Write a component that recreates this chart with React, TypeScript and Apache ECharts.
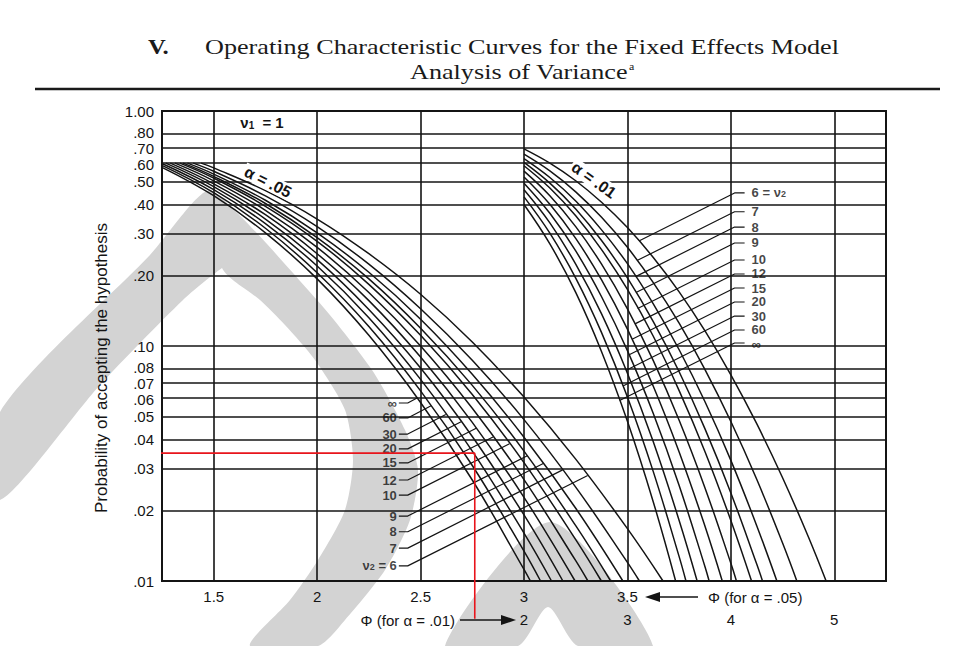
import React, { useEffect, useRef } from "react";
import * as echarts from "echarts";

// ν2 order used by every family below: ∞, 60, 30, 20, 15, 12, 10, 9, 8, 7, 6
const nu2 = ["∞", "60", "30", "20", "15", "12", "10", "9", "8", "7", "6"];

// OC curves, α = .05 (x = Φ for α = .05, y = probability of accepting)
const oc05: number[][][] = [
  [[1.25, 0.576], [1.5, 0.436], [1.75, 0.303], [2.0, 0.193], [2.25, 0.111], [2.5, 0.0575], [2.75, 0.0269], [3.0, 0.0112], [3.031, 0.01]],
  [[1.25, 0.587], [1.5, 0.449], [1.75, 0.317], [2.0, 0.205], [2.25, 0.121], [2.5, 0.0644], [2.75, 0.031], [3.0, 0.0134], [3.08, 0.01]],
  [[1.25, 0.598], [1.5, 0.463], [1.75, 0.332], [2.0, 0.219], [2.25, 0.132], [2.5, 0.0721], [2.75, 0.0357], [3.0, 0.016], [3.133, 0.01]],
  [[1.268, 0.6], [1.5, 0.477], [1.75, 0.347], [2.0, 0.233], [2.25, 0.143], [2.5, 0.0806], [2.75, 0.0412], [3.0, 0.0191], [3.188, 0.01]],
  [[1.29, 0.6], [1.5, 0.49], [1.75, 0.362], [2.0, 0.247], [2.25, 0.156], [2.5, 0.0898], [2.75, 0.0473], [3.0, 0.0227], [3.247, 0.01]],
  [[1.313, 0.6], [1.5, 0.5045], [1.75, 0.378], [2.0, 0.263], [2.25, 0.169], [2.5, 0.1], [2.75, 0.0543], [3.0, 0.027], [3.25, 0.0122], [3.309, 0.01]],
  [[1.336, 0.6], [1.5, 0.518], [1.75, 0.393], [2.0, 0.279], [2.25, 0.183], [2.5, 0.111], [2.75, 0.0622], [3.0, 0.0319], [3.25, 0.015], [3.374, 0.01]],
  [[1.352, 0.6], [1.5, 0.527], [1.75, 0.404], [2.0, 0.289], [2.25, 0.193], [2.5, 0.119], [2.75, 0.068], [3.0, 0.0357], [3.25, 0.0172], [3.419, 0.01]],
  [[1.373, 0.6], [1.5, 0.539], [1.75, 0.417], [2.0, 0.303], [2.25, 0.206], [2.5, 0.13], [2.75, 0.0758], [3.0, 0.0409], [3.25, 0.0204], [3.478, 0.01]],
  [[1.401, 0.6], [1.5, 0.554], [1.75, 0.435], [2.0, 0.322], [2.25, 0.223], [2.5, 0.144], [2.75, 0.0869], [3.0, 0.0486], [3.25, 0.0251], [3.5, 0.012], [3.558, 0.01]],
  [[1.439, 0.6], [1.5, 0.573], [1.75, 0.458], [2.0, 0.347], [2.25, 0.247], [2.5, 0.166], [2.75, 0.104], [3.0, 0.0606], [3.25, 0.033], [3.5, 0.0167], [3.672, 0.01]],
];

// OC curves, α = .01 (x = Φ for α = .01)
const oc01: number[][][] = [
  [[2.0, 0.4], [2.25, 0.272], [2.5, 0.169], [2.75, 0.0946], [3.0, 0.0478], [3.25, 0.0217], [3.466, 0.01]],
  [[2.0, 0.431], [2.25, 0.302], [2.5, 0.1945], [2.75, 0.114], [3.0, 0.0607], [3.25, 0.0292], [3.5, 0.0127], [3.566, 0.01]],
  [[2.0, 0.462], [2.25, 0.334], [2.5, 0.223], [2.75, 0.137], [3.0, 0.0766], [3.25, 0.0391], [3.5, 0.0181], [3.674, 0.01]],
  [[2.0, 0.493], [2.25, 0.367], [2.5, 0.254], [2.75, 0.162], [3.0, 0.0956], [3.25, 0.0516], [3.5, 0.0255], [3.75, 0.0115], [3.79, 0.01]],
  [[2.0, 0.524], [2.25, 0.401], [2.5, 0.287], [2.75, 0.191], [3.0, 0.118], [3.25, 0.0674], [3.5, 0.0354], [3.75, 0.0171], [3.917, 0.01]],
  [[2.0, 0.555], [2.25, 0.436], [2.5, 0.322], [2.75, 0.223], [3.0, 0.144], [3.25, 0.0866], [3.5, 0.0483], [3.75, 0.0249], [4.0, 0.0119], [4.054, 0.01]],
  [[2.0, 0.585], [2.25, 0.47], [2.5, 0.358], [2.75, 0.257], [3.0, 0.174], [3.25, 0.11], [3.5, 0.0646], [3.75, 0.0355], [4.0, 0.0181], [4.2, 0.01]],
  [[2.0, 0.604], [2.25, 0.493], [2.5, 0.383], [2.75, 0.281], [3.0, 0.195], [3.25, 0.127], [3.5, 0.0777], [3.75, 0.0444], [4.0, 0.0237], [4.25, 0.0118], [4.306, 0.01]],
  [[2.0, 0.627], [2.25, 0.521], [2.5, 0.414], [2.75, 0.312], [3.0, 0.224], [3.25, 0.151], [3.5, 0.0964], [3.75, 0.0579], [4.0, 0.0326], [4.25, 0.0172], [4.445, 0.01]],
  [[2.0, 0.655], [2.25, 0.556], [2.5, 0.453], [2.75, 0.353], [3.0, 0.263], [3.25, 0.186], [3.5, 0.125], [3.75, 0.0794], [4.0, 0.0477], [4.25, 0.0271], [4.5, 0.0145], [4.638, 0.01]],
  [[2.0, 0.69], [2.25, 0.6], [2.5, 0.505], [2.75, 0.409], [3.0, 0.319], [3.25, 0.238], [3.5, 0.17], [3.75, 0.116], [4.0, 0.0754], [4.25, 0.0467], [4.5, 0.0275], [4.75, 0.0154], [4.921, 0.01]],
];

// probability axis: grid lines and their labels
const yTickValues = [1, 0.8, 0.7, 0.6, 0.5, 0.4, 0.3, 0.2, 0.1, 0.08, 0.07, 0.06, 0.05, 0.04, 0.03, 0.02, 0.01];
const yTickLabels = ["1.00", ".80", ".70", ".60", ".50", ".40", ".30", ".20", ".10", ".08", ".07", ".06", ".05", ".04", ".03", ".02", ".01"];
// Φ axis: vertical grid lines and tick labels
const xGridValues = [1.5, 2, 2.5, 3, 3.5, 4, 4.5];
const phi05Ticks = [1.5, 2, 2.5, 3, 3.5];
const phi01Ticks = [2, 3, 4, 5];

// ν2 label leaders: label level and point on curve
const leaderLabelP05 = [0.0572, 0.0494, 0.0422, 0.0365, 0.0318, 0.0269, 0.0232, 0.0189, 0.0162, 0.0138, 0.0116];
const leaderEnd05 = [[2.483, 0.0601], [2.551, 0.0557], [2.622, 0.0511], [2.696, 0.0476], [2.769, 0.0447], [2.85, 0.041], [2.93, 0.0384], [3.016, 0.0341], [3.093, 0.0316], [3.187, 0.0297], [3.308, 0.0281]];
const leaderLabelP01 = [0.103, 0.117, 0.1341, 0.1539, 0.1765, 0.2025, 0.2323, 0.2744, 0.3208, 0.3727, 0.448];
const leaderEnd01 = [[2.925, 0.0586], [2.957, 0.0676], [2.988, 0.0788], [3.017, 0.0918], [3.045, 0.1068], [3.073, 0.1242], [3.099, 0.1444], [3.083, 0.169], [3.079, 0.1974], [3.093, 0.231], [3.111, 0.28]];

// red reading guide (Φ for α=.05, probability)
const redGuide = [[1.023, 0.035], [2.762, 0.035], [2.762, 0.0069]];

const SANS = '"Liberation Sans", Arial, Helvetica, sans-serif';
const SERIF = '"Liberation Serif", "Times New Roman", serif';
const INK = "#141414";
const WATERMARK = "#d3d3d3";

// leader geometry (label anchor on each family)
const LEAD05_TEXT = 2.395;
const LEAD05_BEND = 2.438;
const LEAD01_TEXT = 4.133;
const LEAD01_BEND = 4.036;

// small vertical nudges that keep tightly spaced probability labels apart
const labelNudge: Record<string, number> = { ".80": -1.2, ".70": 0.8, ".60": 1.2, ".08": -1.2, ".07": 0.8, ".06": 1 };

function buildOption(): any {
  const series: any[] = [];

  series.push({
    type: "line",
    xAxisIndex: 0,
    yAxisIndex: 0,
    data: [[1.25, 1]],
    showSymbol: false,
    lineStyle: { width: 0 },
    silent: true,
    z: 1,
    markLine: {
      silent: true,
      symbol: ["none", "none"],
      lineStyle: { color: INK, width: 1.6, type: "solid" },
      label: {
        show: true,
        position: "start",
        distance: 8,
        color: INK,
        fontSize: 15,
        lineHeight: 12,
        fontFamily: SANS,
      },
      emphasis: { disabled: true },
      data: [
        ...yTickValues.map((v, i) => ({
          yAxis: v,
          label: { formatter: yTickLabels[i], offset: [0, labelNudge[yTickLabels[i]] || 0] },
        })),
        ...xGridValues.map((v) => ({ xAxis: v, label: { show: false } })),
      ],
    },
  });

  const curveStyle = { color: INK, width: 1.5 };
  oc05.forEach((d, i) => {
    series.push({
      type: "line",
      name: "α=.05 ν2=" + nu2[i],
      xAxisIndex: 0,
      yAxisIndex: 0,
      data: d,
      showSymbol: false,
      smooth: 0.4,
      lineStyle: curveStyle,
      silent: true,
      z: 3,
    });
  });
  oc01.forEach((d, i) => {
    series.push({
      type: "line",
      name: "α=.01 ν2=" + nu2[i],
      xAxisIndex: 1,
      yAxisIndex: 0,
      data: d,
      showSymbol: false,
      smooth: 0.4,
      lineStyle: curveStyle,
      silent: true,
      z: 3,
    });
  });

  const leadStyle = { color: INK, width: 1.2 };
  leaderLabelP05.forEach((p, i) => {
    series.push({
      type: "line",
      xAxisIndex: 0,
      yAxisIndex: 0,
      data: [[LEAD05_TEXT, p], [LEAD05_BEND, p], leaderEnd05[i]],
      showSymbol: false,
      lineStyle: leadStyle,
      silent: true,
      z: 4,
    });
  });
  leaderLabelP01.forEach((p, i) => {
    series.push({
      type: "line",
      xAxisIndex: 1,
      yAxisIndex: 0,
      data: [[LEAD01_TEXT, p], [LEAD01_BEND, p], leaderEnd01[i]],
      showSymbol: false,
      lineStyle: leadStyle,
      silent: true,
      z: 4,
    });
  });

  const rich = {
    v: { fontSize: 13, fontFamily: SANS, color: INK, fontWeight: "bold" },
    s: { fontSize: 9, fontFamily: SANS, color: INK, fontWeight: "bold", verticalAlign: "bottom", padding: [6, 0, 0, 0] },
  };
  series.push({
    type: "scatter",
    xAxisIndex: 0,
    yAxisIndex: 0,
    symbolSize: 0,
    silent: true,
    z: 5,
    data: leaderLabelP05.map((p, i) => ({ value: [LEAD05_TEXT, p], name: nu2[i] })),
    label: {
      show: true,
      position: "left",
      distance: 2,
      color: INK,
      fontSize: 13,
      lineHeight: 11,
      fontWeight: "bold",
      fontFamily: SANS,
      formatter: (pr: any) => (pr.name === "6" ? "{v|ν}{s|2} = 6" : pr.name),
      rich,
    },
  });
  series.push({
    type: "scatter",
    xAxisIndex: 1,
    yAxisIndex: 0,
    symbolSize: 0,
    silent: true,
    z: 5,
    data: leaderLabelP01.map((p, i) => ({
      value: [LEAD01_TEXT, p],
      name: nu2[i],
      label: { offset: [0, nu2[i] === "∞" ? 1.5 : nu2[i] === "60" ? -0.5 : 0] },
    })),
    label: {
      show: true,
      position: "right",
      distance: 7,
      color: INK,
      fontSize: 13,
      lineHeight: 11,
      fontWeight: "bold",
      fontFamily: SANS,
      formatter: (pr: any) => (pr.name === "6" ? "6 = {v|ν}{s|2}" : pr.name),
      rich,
    },
  });

  series.push({
    type: "line",
    xAxisIndex: 0,
    yAxisIndex: 0,
    data: redGuide,
    showSymbol: false,
    clip: false,
    lineStyle: { color: "#e8141b", width: 1.6 },
    silent: true,
    z: 6,
  });

  const axisBase = {
    type: "value",
    position: "bottom",
    axisLine: { show: false },
    axisTick: { show: false },
    splitLine: { show: false },
  };

  // faint scanned watermark behind the chart
  const wm = (points: number[][]) => ({ type: "polygon", z: -5, silent: true, shape: { points, smooth: 0.25 }, style: { fill: WATERMARK } });

  const graphic: any[] = [
    // left stroke of the big watermark letter
    wm([[210, 190], [150, 255], [0, 412], [0, 500], [100, 385], [183, 300], [222, 268], [236, 262]]),
    // right, bowed stroke
    wm([[210, 190], [317, 300], [372, 370], [405, 430], [418, 470], [410, 520], [385, 570], [345, 620], [318, 646], [250, 646], [290, 600], [318, 560], [345, 510], [353, 460], [345, 410], [315, 360], [285, 325], [260, 300], [222, 268]]),
    // small Λ at the bottom
    wm([[550, 522], [445, 646], [518, 646], [548, 607], [578, 646], [653, 646]]),
    { type: "text", x: 148, y: 46, scaleX: 1.12, style: { text: "V.", fontFamily: SERIF, fontSize: 22, fontWeight: "bold", fill: "#1a1a1a", align: "left", verticalAlign: "middle" } },
    { type: "text", x: 205, y: 46, scaleX: 1.19, style: { text: "Operating Characteristic Curves for the Fixed Effects Model", fontFamily: SERIF, fontSize: 22, fill: "#1a1a1a", align: "left", verticalAlign: "middle" } },
    {
      type: "text",
      x: 522,
      y: 71,
      scaleX: 1.19,
      style: {
        text: "{n|Analysis of Variance}{sup|a}",
        align: "center",
        verticalAlign: "middle",
        rich: {
          n: { fontFamily: SERIF, fontSize: 22, fill: "#1a1a1a" },
          sup: { fontFamily: SERIF, fontSize: 10, fill: "#1a1a1a", padding: [0, 0, 10, 1] },
        },
      },
    },
    { type: "line", shape: { x1: 35, y1: 89, x2: 940, y2: 89 }, style: { stroke: "#1a1a1a", lineWidth: 2.5 } },
    {
      type: "text",
      x: 101,
      y: 368,
      rotation: Math.PI / 2,
      style: { text: "Probability of accepting the hypothesis", fontFamily: SANS, fontSize: 17, fill: INK, align: "center", verticalAlign: "middle" },
    },
    {
      type: "text",
      x: 262,
      y: 122,
      style: {
        text: "{g|ν}{b|1} = 1",
        align: "center",
        verticalAlign: "middle",
        rich: {
          g: { fontFamily: SANS, fontSize: 15, fontWeight: "bold", fill: INK },
          b: { fontFamily: SANS, fontSize: 10, fontWeight: "bold", fill: INK, padding: [7, 4, 0, 0] },
        },
        fontFamily: SANS,
        fontSize: 15,
        fontWeight: "bold",
        fill: INK,
      },
    },
    {
      type: "text",
      x: 268,
      y: 182,
      rotation: -0.47,
      style: { text: "α = .05", fontFamily: SANS, fontSize: 16, fontWeight: "bold", fill: INK, align: "center", verticalAlign: "middle", backgroundColor: "#fff", padding: [0, 2] },
      z: 10,
    },
    {
      type: "text",
      x: 594,
      y: 180,
      rotation: -0.62,
      style: { text: "α = .01", fontFamily: SANS, fontSize: 16, fontWeight: "bold", fill: INK, align: "center", verticalAlign: "middle", backgroundColor: "#fff", padding: [0, 2] },
      z: 10,
    },
    { type: "text", x: 708, y: 597, style: { text: "Φ (for α = .05)", fontFamily: SANS, fontSize: 15, fill: INK, align: "left", verticalAlign: "middle" } },
    { type: "line", shape: { x1: 655, y1: 597, x2: 698, y2: 597 }, style: { stroke: INK, lineWidth: 1.5 } },
    { type: "polygon", shape: { points: [[645, 597], [660, 592], [660, 602]] }, style: { fill: INK } },
    { type: "text", x: 455, y: 620, style: { text: "Φ (for α = .01)", fontFamily: SANS, fontSize: 15, fill: INK, align: "right", verticalAlign: "middle" } },
    { type: "line", shape: { x1: 460, y1: 620, x2: 505, y2: 620 }, style: { stroke: INK, lineWidth: 1.5 } },
    { type: "polygon", shape: { points: [[516, 620], [501, 615], [501, 625]] }, style: { fill: INK } },
  ];

  return {
    animation: false,
    backgroundColor: "#ffffff",
    grid: { left: 162, top: 111, right: 67, bottom: 65, show: true, borderColor: INK, borderWidth: 2, backgroundColor: "transparent", containLabel: false },
    xAxis: [
      {
        ...axisBase,
        min: 1.25,
        max: 4.75,
        axisLabel: { customValues: phi05Ticks, formatter: (v: number) => String(v), margin: 8, fontSize: 15, color: INK, fontFamily: SANS },
      },
      {
        ...axisBase,
        min: -1.5,
        max: 5.5,
        offset: 23,
        axisLabel: { customValues: phi01Ticks, formatter: (v: number) => String(v), margin: 8, fontSize: 15, color: INK, fontFamily: SANS },
      },
    ],
    yAxis: {
      type: "log",
      logBase: 10,
      min: 0.01,
      max: 1,
      axisLine: { show: false },
      axisTick: { show: false },
      axisLabel: { show: false },
      splitLine: { show: false },
    },
    graphic,
    series,
  };
}

export default function App() {
  const ref = useRef<HTMLDivElement>(null);
  useEffect(() => {
    if (!ref.current) return;
    const chart = echarts.init(ref.current, null, { renderer: "svg" });
    chart.setOption(buildOption());
    return () => chart.dispose();
  }, []);
  return (
    <div
      ref={ref}
      style={{ position: "absolute", left: 0, top: 0, width: 953, height: 646, background: "#fff" }}
    />
  );
}
